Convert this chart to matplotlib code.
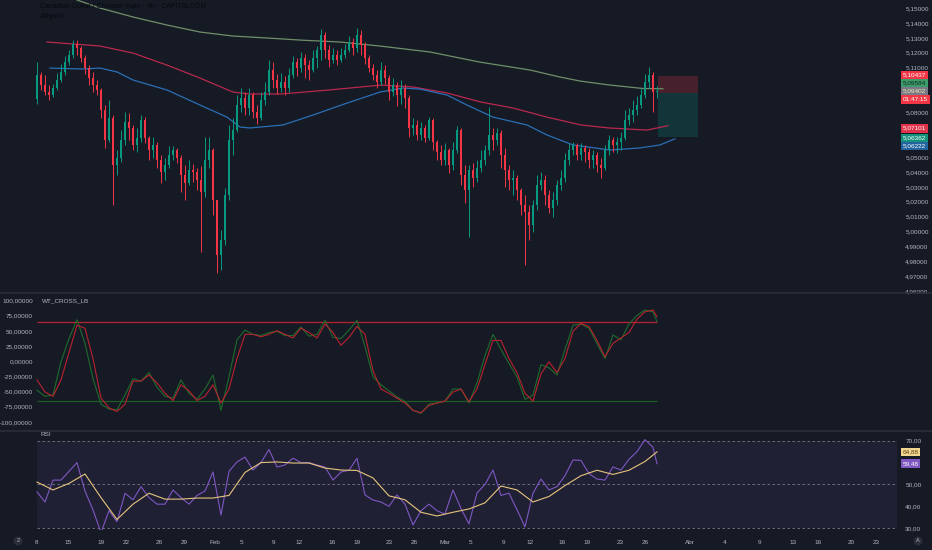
import numpy as np
import matplotlib.pyplot as plt
from matplotlib.transforms import blended_transform_factory
from matplotlib.lines import Line2D

# CAD/CNY 4h candles (one candle per ~4 px of the reference)
close = [5.1050, 5.0983, 5.0936, 5.0916, 5.0963, 5.1017, 5.1071, 5.1137, 5.1185, 5.1258,
         5.1232, 5.1164, 5.1097, 5.1030, 5.0983, 5.0950, 5.0816, 5.0614, 5.0762, 5.0447,
         5.0494, 5.0614, 5.0735, 5.0695, 5.0581, 5.0628, 5.0748, 5.0628, 5.0547, 5.0581,
         5.0480, 5.0400, 5.0447, 5.0514, 5.0547, 5.0494, 5.0380, 5.0326, 5.0413, 5.0400,
         5.0346, 5.0265, 5.0480, 5.0547, 5.0212, 4.9843, 4.9943, 5.0245, 5.0614, 5.0681,
         5.0849, 5.0896, 5.0829, 5.0916, 5.0802, 5.0762, 5.0883, 5.0936, 5.1084, 5.1017,
         5.0963, 5.1003, 5.0963, 5.1050, 5.1137, 5.1097, 5.1164, 5.1117, 5.1084, 5.1164,
         5.1218, 5.1319, 5.1218, 5.1151, 5.1185, 5.1151, 5.1185, 5.1218, 5.1272, 5.1232,
         5.1319, 5.1252, 5.1164, 5.1097, 5.1050, 5.1003, 5.1084, 5.1030, 5.0936, 5.0983,
         5.0916, 5.0963, 5.0896, 5.0695, 5.0715, 5.0648, 5.0695, 5.0628, 5.0748, 5.0601,
         5.0534, 5.0480, 5.0547, 5.0447, 5.0547, 5.0681, 5.0380, 5.0279, 5.0413, 5.0359,
         5.0426, 5.0480, 5.0547, 5.0648, 5.0614, 5.0661, 5.0514, 5.0413, 5.0346, 5.0359,
         5.0279, 5.0178, 5.0131, 5.0044, 5.0178, 5.0312, 5.0346, 5.0245, 5.0158, 5.0212,
         5.0312, 5.0359, 5.0480, 5.0547, 5.0581, 5.0514, 5.0561, 5.0534, 5.0480, 5.0514,
         5.0447, 5.0426, 5.0547, 5.0614, 5.0581, 5.0601, 5.0628, 5.0748, 5.0782, 5.0816,
         5.0849, 5.0916, 5.1003, 5.1050, 5.0936, 5.0940]
high = [5.1137, 5.1071, 5.1050, 5.0983, 5.0990, 5.1064, 5.1124, 5.1178, 5.1218, 5.1285,
        5.1285, 5.1245, 5.1185, 5.1117, 5.1071, 5.1017, 5.0963, 5.0849, 5.0883, 5.0782,
        5.0547, 5.0681, 5.0802, 5.0795, 5.0715, 5.0695, 5.0782, 5.0768, 5.0641, 5.0634,
        5.0601, 5.0514, 5.0494, 5.0574, 5.0574, 5.0561, 5.0514, 5.0447, 5.0480, 5.0453,
        5.0426, 5.0440, 5.0634, 5.0634, 5.0561, 5.0178, 5.0010, 5.0292, 5.0715, 5.0762,
        5.0916, 5.0963, 5.0936, 5.0963, 5.0936, 5.0849, 5.0936, 5.1003, 5.1151, 5.1137,
        5.1057, 5.1064, 5.1044, 5.1097, 5.1178, 5.1164, 5.1205, 5.1191, 5.1151, 5.1218,
        5.1245, 5.1359, 5.1339, 5.1252, 5.1232, 5.1218, 5.1232, 5.1258, 5.1312, 5.1299,
        5.1366, 5.1352, 5.1272, 5.1185, 5.1124, 5.1084, 5.1137, 5.1117, 5.1050, 5.1030,
        5.1003, 5.1017, 5.0990, 5.0916, 5.0762, 5.0748, 5.0735, 5.0715, 5.0768, 5.0762,
        5.0614, 5.0581, 5.0594, 5.0561, 5.0601, 5.0708, 5.0695, 5.0447, 5.0447, 5.0460,
        5.0480, 5.0547, 5.0581, 5.0835, 5.0695, 5.0695, 5.0681, 5.0561, 5.0447, 5.0413,
        5.0380, 5.0292, 5.0245, 5.0178, 5.0212, 5.0380, 5.0400, 5.0380, 5.0279, 5.0265,
        5.0346, 5.0413, 5.0527, 5.0594, 5.0601, 5.0594, 5.0594, 5.0581, 5.0561, 5.0547,
        5.0534, 5.0494, 5.0581, 5.0648, 5.0634, 5.0634, 5.0668, 5.0816, 5.0829, 5.0883,
        5.0909, 5.0963, 5.1057, 5.1104, 5.1071, 5.0976]
low = [5.0856, 5.0950, 5.0916, 5.0883, 5.0903, 5.0950, 5.1003, 5.1050, 5.1117, 5.1164,
       5.1185, 5.1137, 5.1057, 5.0983, 5.0936, 5.0916, 5.0762, 5.0561, 5.0601, 5.0178,
       5.0380, 5.0467, 5.0581, 5.0614, 5.0547, 5.0534, 5.0601, 5.0594, 5.0480, 5.0494,
       5.0426, 5.0326, 5.0346, 5.0426, 5.0480, 5.0460, 5.0265, 5.0212, 5.0312, 5.0332,
       5.0279, 4.9862, 5.0232, 5.0426, 5.0111, 4.9722, 4.9742, 4.9910, 5.0212, 5.0514,
       5.0668, 5.0802, 5.0782, 5.0782, 5.0762, 5.0721, 5.0748, 5.0849, 5.0916, 5.0963,
       5.0923, 5.0936, 5.0916, 5.0936, 5.1030, 5.1044, 5.1071, 5.1030, 5.1017, 5.1071,
       5.1097, 5.1151, 5.1164, 5.1104, 5.1131, 5.1117, 5.1137, 5.1164, 5.1205, 5.1185,
       5.1205, 5.1185, 5.1124, 5.1071, 5.1017, 5.0963, 5.0983, 5.0990, 5.0883, 5.0909,
       5.0842, 5.0856, 5.0829, 5.0634, 5.0648, 5.0614, 5.0614, 5.0601, 5.0614, 5.0547,
       5.0480, 5.0447, 5.0447, 5.0393, 5.0413, 5.0527, 5.0312, 5.0191, 4.9963, 5.0299,
       5.0332, 5.0400, 5.0447, 5.0514, 5.0547, 5.0581, 5.0426, 5.0299, 5.0279, 5.0245,
       5.0212, 5.0111, 4.9775, 4.9943, 4.9997, 5.0145, 5.0279, 5.0178, 5.0124, 5.0097,
       5.0178, 5.0279, 5.0332, 5.0447, 5.0514, 5.0480, 5.0480, 5.0467, 5.0426, 5.0426,
       5.0400, 5.0359, 5.0413, 5.0514, 5.0534, 5.0527, 5.0547, 5.0614, 5.0715, 5.0735,
       5.0782, 5.0829, 5.0896, 5.0963, 5.0802, 5.0896]
first_open = 5.0890

# moving averages (sampled points, bar index / price)
sage_idx = [10, 15.75, 24, 32.5, 40.75, 49, 57.5, 65.75, 75.75, 85.75, 98.25, 110.75,
            123.25, 130.75, 135.75, 143.25, 151.5, 156.5]
sage_val = [5.1554, 5.1500, 5.1440, 5.1386, 5.1339, 5.1312, 5.1299, 5.1285, 5.1272, 5.1245,
            5.1205, 5.1137, 5.1084, 5.1037, 5.1010, 5.0983, 5.0960, 5.0958]
red_idx = [2.5, 15.75, 24, 32.5, 40.75, 49, 53, 61, 73, 86, 94, 102.5, 111, 119, 127.5,
           136, 143, 152.5, 157.75]
red_val = [5.1272, 5.1245, 5.1198, 5.1117, 5.1030, 5.0936, 5.0923, 5.0923, 5.0950, 5.0983,
           5.0970, 5.0930, 5.0869, 5.0829, 5.0768, 5.0715, 5.0695, 5.0681, 5.0710]
blue_idx = [3.25, 11.5, 15.75, 20, 24, 32.5, 40.75, 47.5, 50.75, 53.25, 61.5, 69, 77.5,
            85.75, 91.5, 95.75, 102.5, 107.5, 114, 122.5, 127.5, 134, 143.25, 150.75,
            155.75, 159.5]
blue_val = [5.1097, 5.1091, 5.1097, 5.1071, 5.1017, 5.0950, 5.0849, 5.0768, 5.0701, 5.0695,
            5.0715, 5.0782, 5.0862, 5.0936, 5.0963, 5.0956, 5.0916, 5.0849, 5.0768, 5.0715,
            5.0648, 5.0581, 5.0547, 5.0561, 5.0581, 5.0622]

# long position tool
pos_stop = 5.10437
pos_entry = 5.0930
pos_target = 5.06362

# WaveTrend (every 2 bars + last bar)
wt1 = [-47, -57, -55, 0, 38, 69, 30, -28, -70, -78,
       -79, -55, -28, -32, -18, -42, -57, -60, -30, -52,
       -62, -45, -22, -80, -25, 36, 52, 45, 43, 48,
       50, 43, 43, 57, 42, 45, 68, 40, 38, 52,
       68, 25, -25, -38, -48, -58, -65, -80, -85, -70,
       -68, -65, -45, -45, -68, -35, 10, 45, 20, -3,
       -25, -62, -55, -5, -10, -22, 20, 60, 62, 55,
       30, 5, 44, 36, 62, 76, 85, 82, 66]
wt2 = [-30, -50, -57, -30, 15, 60, 55, 5, -60, -76,
       -82, -70, -32, -32, -22, -35, -52, -64, -38, -48,
       -64, -57, -38, -68, -45, 5, 45, 45, 41, 45,
       51, 45, 39, 55, 48, 39, 62, 48, 27, 40,
       58, 45, -15, -45, -52, -60, -68, -80, -84, -72,
       -68, -65, -50, -45, -66, -45, -5, 35, 35, 5,
       -18, -52, -65, -20, 0, -18, 5, 50, 63, 58,
       35, 8, 30, 39, 48, 70, 82, 85, 74]
wt_levels = [65, -65]

# RSI (every 2 bars + last bar) and its MA (every 4 bars + last bar)
rsi = [46.6, 42, 52, 52, 56, 60, 47, 38.4, 28, 38,
       33, 46, 43, 49, 44, 41, 41, 47.5, 44, 41,
       45, 47, 55.7, 36, 56, 60.3, 62.5, 56.6, 60, 66,
       58, 58.9, 62, 60, 60, 58.9, 58, 52, 55.7, 56.5,
       62, 45.2, 42.9, 42, 40, 45.2, 41, 31.5, 38, 41,
       38, 36.5, 47.5, 39, 32, 46.1, 50, 56.6, 45, 46,
       38.5, 30.6, 46, 52.5, 47.5, 49, 54, 61.2, 61, 55,
       52.5, 52, 58, 56.6, 61.5, 65, 70.5, 67, 59.5]
rsi_ma = [51.1, 47.5, 50.5, 54.8, 44, 34, 41, 46, 43.3, 43.3,
          43.8, 43.8, 45, 55.5, 60, 60.3, 59.8, 59.8, 57.5, 56.6,
          56.4, 53, 44.8, 43, 37.3, 35.6, 37.3, 38.8, 41.6, 49.3,
          47.5, 42, 44.5, 49.5, 54, 56.5, 54.6, 56.5, 60.5, 64.9]

# axis labels
price_ticks = [5.15, 5.14, 5.13, 5.12, 5.11, 5.08, 5.05, 5.04, 5.03, 5.02, 5.01,
               5.00, 4.99, 4.98, 4.97, 4.96]
wt_ticks = [100, 75, 50, 25, 0, -25, -50, -75, -100]
rsi_ticks = [70, 50, 40, 30]
date_labels = ['8', '15', '19', '22', '26', '29', 'Feb', '5', '9', '12', '16', '19', '23',
               '26', 'Mar', '5', '9', '12', '16', '19', '23', '26', 'Abr', '4', '9', '13',
               '16', '20', '23']
date_pos = [0, 7.75, 16, 22.25, 30.5, 36.75, 44.5, 51.25, 59.25, 65.5, 73.75, 80, 88,
            94.25, 102, 108.5, 116.75, 123.25, 131.25, 137.5, 145.75, 152, 163.25, 172,
            180.75, 189, 195.25, 203.5, 209.75]

# last-value labels on the scales: (text, position, background, text colour)
price_tags = [('5,10437', 5.1051, '#f23645', '#ffffff'),
              ('5,09584', 5.0995, '#3d9a6a', '#0e2a1c'),
              ('5,09402', 5.0943, '#787b86', '#f3e6b3'),
              ('01:47:15', 5.0887, '#f23645', '#ffffff'),
              ('5,07101', 5.0693, '#e0334a', '#ffffff'),
              ('5,06362', 5.0626, '#14917a', '#ffffff'),
              ('5,06222', 5.0574, '#23649f', '#ffffff')]
rsi_tags = [('64,88', 64.88, '#f1d58f', '#5a4312'),
            ('59,48', 59.48, '#7e57c2', '#ffffff')]

BG = '#161a25'
UP = '#089981'
DN = '#f23645'
TXT = '#b2b5be'
FONT = 'Liberation Sans'
FS = 4.6

plt.rcParams['font.family'] = [FONT, 'DejaVu Sans']

fig = plt.figure(figsize=(9.32, 5.5), dpi=100, facecolor=BG)
ax = fig.add_axes([0, 0.4691, 0.9624, 0.5309])
ax_wt = fig.add_axes([0, 0.2182, 0.9624, 0.2473])
ax_rsi = fig.add_axes([0, 0.0364, 0.9624, 0.1782])

x_lo, x_hi = -9.25, 215
for a in (ax, ax_wt, ax_rsi):
    a.set_facecolor(BG)
    for s in a.spines.values():
        s.set_visible(False)
    a.set_xlim(x_lo, x_hi)
    a.tick_params(length=0, colors=TXT, labelsize=FS)
    a.set_xticks([])

# ---- price pane ----
x = np.arange(len(close))
o = np.array([first_open] + close[:-1])
c = np.array(close)
h = np.maximum(np.array(high), np.maximum(o, c))
l = np.minimum(np.array(low), np.minimum(o, c))
cols = np.where(c >= o, UP, DN)
ax.vlines(x, l, h, colors=cols, linewidth=0.7, zorder=3)
ax.bar(x, np.maximum(np.abs(c - o), 0.00025), bottom=np.minimum(o, c), width=0.62,
       color=cols, linewidth=0, zorder=4)

ax.plot(sage_idx, sage_val, color='#6f8f6a', lw=0.9, zorder=2)
ax.plot(red_idx, red_val, color='#b8284f', lw=0.9, zorder=2)
ax.plot(blue_idx, blue_val, color='#2a6fb5', lw=0.9, zorder=2)

box_x = [x[-1] + 0.25, x[-1] + 10.25]
ax.fill_between(box_x, pos_entry, pos_stop, color=DN, alpha=0.22, linewidth=0, zorder=1)
ax.fill_between(box_x, pos_target, pos_entry, color=UP, alpha=0.22, linewidth=0, zorder=1)

ax.set_ylim(4.9594, 5.1554)
ax.yaxis.tick_right()
ax.set_yticks(price_ticks)
ax.set_yticklabels([f'{v:.5f}'.replace('.', ',') for v in price_ticks])
ax.tick_params(axis='y', pad=6)

tr = blended_transform_factory(ax.transAxes, ax.transData)
for txt, yv, bgc, fgc in price_tags:
    ax.text(1.0064, yv, txt, transform=tr, ha='left', va='center', fontsize=FS,
            color=fgc, bbox=dict(boxstyle='square,pad=0.28', fc=bgc, ec='none'))

fig.text(40 / 932, 1 - 7 / 550, 'Canadian Dollar / Chinese Yuan · 4h · CAPITALCOM',
         fontsize=5, color='#07090d', va='center')
fig.text(40 / 932, 1 - 16 / 550, 'Alligator', fontsize=5, color='#07090d', va='center')

# ---- WaveTrend pane ----
wt_x = list(range(0, 155, 2)) + [155]
ax_wt.hlines(wt_levels[0], 0, x[-1], colors='#b8232f', lw=0.9)
ax_wt.hlines(wt_levels[1], 0, x[-1], colors='#1b5e20', lw=0.9)
ax_wt.plot(wt_x, wt1, color='#1e6b2c', lw=0.8)
ax_wt.plot(wt_x, wt2, color='#b8232f', lw=0.8)
ax_wt.set_ylim(-112.4, 111.4)
ax_wt.set_yticks([])
for v in wt_ticks:
    ax_wt.text(33 / 897, v, f'{v:.5f}'.replace('.', ','), ha='right', va='center',
               fontsize=FS, color=TXT,
               transform=blended_transform_factory(ax_wt.transAxes, ax_wt.transData))
ax_wt.text(42 / 897, 0.95, 'WT_CROSS_LB', transform=ax_wt.transAxes, fontsize=FS,
           color=TXT, va='center')

# ---- RSI pane ----
rsi_x = list(range(0, 155, 2)) + [155]
ma_x = list(range(0, 153, 4)) + [155]
ax_rsi.fill_between([0, x_hi], 30, 70, color='#7e57c2', alpha=0.1, linewidth=0)
ax_rsi.hlines([70, 50, 30], 0, x_hi, colors='#787b86', lw=0.6, linestyles=(0, (3, 3)))
ax_rsi.plot(rsi_x, rsi, color='#7e57c2', lw=0.8)
ax_rsi.plot(ma_x, rsi_ma, color='#e6c47c', lw=0.8)
ax_rsi.set_ylim(29.2, 74)
ax_rsi.yaxis.tick_right()
ax_rsi.set_yticks(rsi_ticks)
ax_rsi.set_yticklabels([f'{v:.2f}'.replace('.', ',') for v in rsi_ticks])
ax_rsi.tick_params(axis='y', pad=6)
tr_r = blended_transform_factory(ax_rsi.transAxes, ax_rsi.transData)
for txt, yv, bgc, fgc in rsi_tags:
    ax_rsi.text(1.0064, yv, txt, transform=tr_r, ha='left', va='center', fontsize=FS,
                color=fgc, bbox=dict(boxstyle='square,pad=0.28', fc=bgc, ec='none'))
ax_rsi.text(41 / 897, 0.97, 'RSI', transform=ax_rsi.transAxes, fontsize=FS, color=TXT,
            va='center')

ax_rsi.set_xticks(date_pos)
ax_rsi.set_xticklabels(date_labels)
ax_rsi.tick_params(axis='x', pad=7)

# pane separators and corner buttons
for yy in (1 - 293 / 550, 1 - 431 / 550):
    fig.add_artist(Line2D([0, 1], [yy, yy], color='#2a2e39', lw=1.2))
fig.text(18 / 932, 1 - 541 / 550, '2', fontsize=4, color=TXT, ha='center', va='center',
         bbox=dict(boxstyle='circle,pad=0.35', fc='#2a2e39', ec='none'))
fig.text(918 / 932, 1 - 541 / 550, 'A', fontsize=4, color=TXT, ha='center', va='center',
         bbox=dict(boxstyle='circle,pad=0.35', fc='#2a2e39', ec='none'))

fig.savefig('out.png', dpi=100, facecolor=BG)
